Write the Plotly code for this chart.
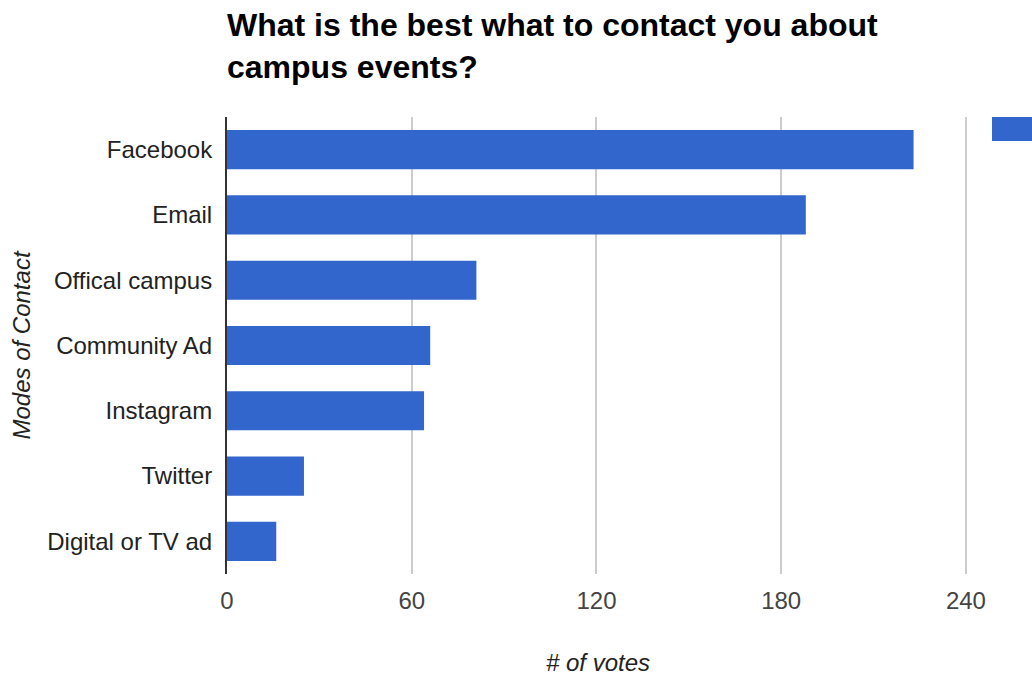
import plotly.graph_objects as go

categories = ["Facebook", "Email", "Offical campus", "Community Ad", "Instagram", "Twitter", "Digital or TV ad"]
votes = [223, 188, 81, 66, 64, 25, 16]
x_ticks = [0, 60, 120, 180, 240]

FONT = "Liberation Sans, Arial, sans-serif"
BLUE = "#3366cc"

fig = go.Figure()
fig.add_trace(go.Bar(
    x=votes, y=categories, orientation="h",
    marker=dict(color=BLUE, line=dict(width=0)),
    name="votes", showlegend=False,
))

W, H = 1032, 677
L, R, T, B = 227, 63, 117, 103

fig.update_layout(
    width=W, height=H,
    margin=dict(l=L, r=R, t=T, b=B),
    paper_bgcolor="white", plot_bgcolor="white",
    bargap=0.4,
    font=dict(family=FONT, size=24, color="#222222"),
    title=dict(
        text="<b>What is the best what to contact you about<br>campus events?</b>",
        font=dict(family=FONT, size=32, color="#000000"),
        x=L / W, xanchor="left", xref="container",
        y=1 - 36 / H, yanchor="top", yref="container",
    ),
    xaxis=dict(
        range=[0, 241],
        tickvals=x_ticks,
        ticktext=[str(v) for v in x_ticks],
        showgrid=True, gridcolor="#cccccc", gridwidth=2,
        zeroline=False, showline=False, ticks="",
        ticklabelstandoff=10,
        automargin=False,
        tickfont=dict(size=24, color="#444444"),
        title=dict(text="<i># of votes</i>", font=dict(size=24, color="#222222"), standoff=41),
    ),
    yaxis=dict(
        categoryorder="array", categoryarray=categories, autorange="reversed",
        showgrid=False, zeroline=False,
        showline=True, linecolor="#333333", linewidth=2,
        ticks="", ticklabelstandoff=8,
        automargin=False,
        tickfont=dict(size=24, color="#222222"),
        title=dict(text="<i>Modes of Contact</i>", font=dict(size=24, color="#222222"), standoff=10),
    ),
    shapes=[dict(
        type="rect", xref="paper", yref="paper",
        x0=(992 - L) / (W - L - R), x1=(1040 - L) / (W - L - R),
        y0=1 - 24 / (H - T - B), y1=1.0,
        fillcolor=BLUE, line=dict(width=0), layer="above",
    )],
)

fig.write_html("out.html")
